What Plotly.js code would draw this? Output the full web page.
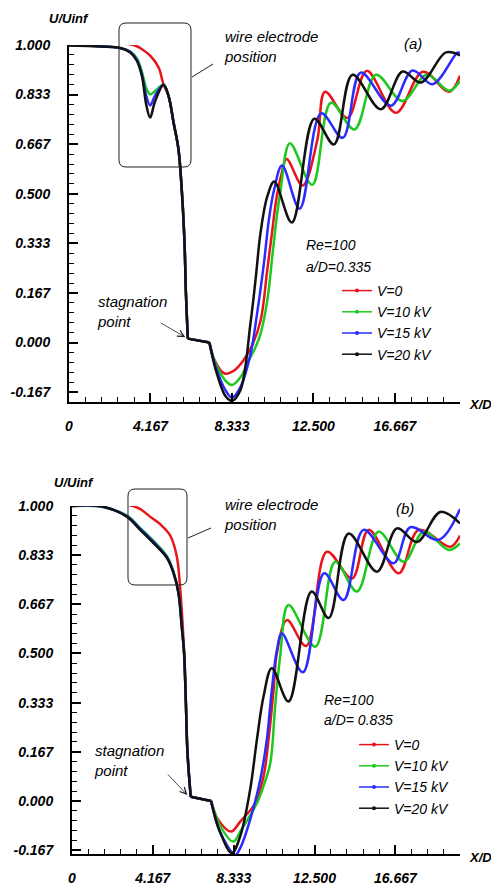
<!DOCTYPE html>
<html>
<head>
<meta charset="utf-8">
<script src="https://cdn.plot.ly/plotly-3.0.1.min.js"></script>
<style>
  html, body { margin: 0; padding: 0; background: #fff; }
  #chart { width: 491px; height: 886px; }
</style>
</head>
<body>
<div id="chart"></div>
<script>
// Streamwise velocity U/Uinf along the wake centreline, X/D downstream
// Panel (a): a/D = 0.335, panel (b): a/D = 0.835

const SERIES_NAMES = ['V=0', 'V=10 kV', 'V=15 kV', 'V=20 kV'];
const SERIES_COLORS = ['#e8141a', '#1ec81e', '#2b2bff', '#111111'];

const X_TICKS = [0, 25 / 6, 50 / 6, 75 / 6, 100 / 6];
const X_TICK_TEXT = ['0', '4.167', '8.333', '12.500', '16.667'];
const Y_TICKS = [-1 / 6, 0, 1 / 6, 2 / 6, 3 / 6, 4 / 6, 5 / 6, 1];
const Y_TICK_TEXT = ['-0.167', '0.000', '0.167', '0.333', '0.500', '0.667', '0.833', '1.000'];

// ---- panel (a), a/D = 0.335 ----
const X_A_V0 = [0, 1.5, 2.6, 3.3, 3.64, 4.15, 4.58, 4.84, 5.09, 5.35, 5.6, 5.78, 5.91, 5.98, 6.08, 6.6, 7.18, 7.45, 7.95, 8.45, 8.9, 9.35, 9.8, 10.14, 10.4, 10.6, 10.85, 11.13, 11.95, 12.7, 13.1, 14.24, 15.23, 16.72, 18.1, 19.45, 20.0];
const U_A_V0 = [1.0, 1.006, 1.006, 1.0, 0.99, 0.964, 0.925, 0.866, 0.829, 0.739, 0.649, 0.5, 0.333, 0.167, 0.013, 0.007, 0.0, -0.06, -0.104, -0.094, -0.062, -0.012, 0.074, 0.243, 0.378, 0.48, 0.56, 0.617, 0.528, 0.68, 0.843, 0.755, 0.913, 0.772, 0.91, 0.843, 0.897];

const X_A_V10 = [0, 1.5, 2.6, 3.13, 3.47, 3.73, 3.95, 4.15, 4.4, 4.84, 5.09, 5.35, 5.6, 5.78, 5.91, 5.98, 6.08, 6.6, 7.18, 7.5, 8.0, 8.34, 8.77, 9.2, 9.54, 9.8, 10.14, 10.4, 10.65, 10.82, 11.3, 12.44, 13.4, 14.6, 15.7, 17.06, 18.3, 19.45, 20.0];
const U_A_V10 = [1.0, 0.997, 0.99, 0.978, 0.955, 0.91, 0.855, 0.834, 0.845, 0.866, 0.829, 0.739, 0.649, 0.5, 0.333, 0.167, 0.013, 0.007, 0.0, -0.07, -0.128, -0.143, -0.117, -0.06, -0.016, 0.03, 0.14, 0.29, 0.435, 0.51, 0.67, 0.53, 0.806, 0.716, 0.9, 0.812, 0.9, 0.846, 0.88];

const X_A_V15 = [0, 1.5, 2.6, 3.13, 3.47, 3.73, 3.95, 4.15, 4.4, 4.84, 5.09, 5.35, 5.6, 5.78, 5.91, 5.98, 6.08, 6.6, 7.18, 7.5, 8.0, 8.34, 8.77, 9.28, 9.62, 9.97, 10.22, 10.48, 10.9, 11.8, 12.9, 14.0, 14.92, 16.46, 17.57, 18.6, 19.88, 20.0];
const U_A_V15 = [1.0, 0.996, 0.99, 0.977, 0.95, 0.9, 0.83, 0.797, 0.83, 0.866, 0.829, 0.739, 0.649, 0.5, 0.333, 0.167, 0.013, 0.007, 0.0, -0.08, -0.16, -0.185, -0.15, -0.04, 0.097, 0.266, 0.41, 0.51, 0.595, 0.45, 0.77, 0.688, 0.907, 0.796, 0.914, 0.868, 0.975, 0.972];

const X_A_V20 = [0, 1.59, 2.62, 3.13, 3.47, 3.73, 3.95, 4.15, 4.4, 4.84, 5.09, 5.35, 5.6, 5.78, 5.91, 5.98, 6.08, 6.6, 7.18, 7.5, 8.0, 8.34, 8.77, 9.28, 9.54, 9.8, 10.14, 10.5, 11.4, 12.55, 13.55, 14.5, 15.95, 17.06, 18.0, 19.28, 20.0];
const U_A_V20 = [0.998, 0.995, 0.99, 0.975, 0.947, 0.896, 0.8, 0.756, 0.81, 0.866, 0.829, 0.739, 0.649, 0.5, 0.333, 0.167, 0.013, 0.007, 0.0, -0.09, -0.18, -0.196, -0.16, 0.063, 0.21, 0.37, 0.49, 0.541, 0.403, 0.752, 0.666, 0.9, 0.784, 0.911, 0.874, 0.975, 0.965];

// ---- panel (b), a/D = 0.835 ----
const X_B_V0 = [0, 1.5, 2.82, 3.5, 4.02, 4.6, 5.06, 5.4, 5.57, 5.71, 5.78, 5.87, 5.95, 6.12, 6.6, 7.17, 7.5, 8.2, 8.67, 9.44, 9.87, 10.13, 10.39, 10.56, 11.08, 12.07, 13.14, 14.43, 15.29, 16.84, 17.87, 19.5, 20.0];
const U_B_V0 = [1.0, 1.005, 1.005, 0.99, 0.964, 0.935, 0.9, 0.83, 0.726, 0.59, 0.5, 0.333, 0.167, 0.014, 0.007, 0.0, -0.06, -0.104, -0.07, -0.008, 0.082, 0.207, 0.376, 0.5, 0.613, 0.525, 0.845, 0.754, 0.919, 0.772, 0.919, 0.862, 0.9];

const X_B_V10 = [0, 1.44, 2.82, 3.5, 4.2, 4.89, 5.23, 5.49, 5.66, 5.78, 5.87, 5.95, 6.12, 6.6, 7.17, 7.6, 8.32, 8.67, 9.53, 9.87, 10.22, 10.47, 10.73, 11.16, 12.54, 13.57, 14.69, 15.8, 17.1, 18.13, 19.42, 20.0];
const U_B_V10 = [1.0, 0.998, 0.968, 0.926, 0.882, 0.83, 0.778, 0.706, 0.59, 0.5, 0.333, 0.167, 0.014, 0.007, 0.0, -0.08, -0.138, -0.104, -0.008, 0.05, 0.128, 0.32, 0.49, 0.664, 0.523, 0.811, 0.71, 0.913, 0.811, 0.913, 0.851, 0.873];

const X_B_V15 = [0, 1.44, 2.82, 3.5, 4.2, 4.89, 5.23, 5.49, 5.66, 5.78, 5.87, 5.95, 6.12, 6.6, 7.17, 7.6, 8.41, 8.67, 9.18, 9.7, 10.04, 10.3, 10.56, 10.82, 11.9, 13.0, 14.0, 15.03, 16.58, 17.44, 18.9, 20.0];
const U_B_V15 = [1.0, 0.999, 0.966, 0.924, 0.878, 0.827, 0.775, 0.705, 0.59, 0.5, 0.333, 0.167, 0.014, 0.007, 0.0, -0.1, -0.183, -0.16, -0.064, 0.071, 0.207, 0.376, 0.51, 0.568, 0.436, 0.772, 0.681, 0.919, 0.806, 0.928, 0.885, 0.99];

const X_B_V20 = [0, 1.44, 2.82, 3.5, 4.2, 4.89, 5.23, 5.49, 5.66, 5.78, 5.87, 5.95, 6.12, 6.6, 7.17, 7.6, 8.24, 8.67, 9.18, 9.53, 9.87, 10.3, 11.16, 12.35, 13.23, 14.26, 15.72, 16.75, 17.78, 18.99, 20.0];
const U_B_V20 = [1.0, 1.0, 0.964, 0.92, 0.874, 0.824, 0.773, 0.704, 0.59, 0.5, 0.333, 0.167, 0.014, 0.007, 0.0, -0.1, -0.177, -0.12, 0.037, 0.207, 0.353, 0.45, 0.337, 0.71, 0.62, 0.907, 0.777, 0.924, 0.878, 0.98, 0.941];

const PANEL_A = [[X_A_V0, U_A_V0], [X_A_V10, U_A_V10], [X_A_V15, U_A_V15], [X_A_V20, U_A_V20]];
const PANEL_B = [[X_B_V0, U_B_V0], [X_B_V10, U_B_V10], [X_B_V15, U_B_V15], [X_B_V20, U_B_V20]];

const W = 491, H = 886;
const FONT = 'Liberation Sans, Arial, sans-serif';
const px = p => p / W;          // pixel column -> paper x
const py = p => 1 - p / H;      // pixel row -> paper y

// Each profile is drawn in three pieces: the smooth upstream part down to the
// stagnation point, the straight segment across the cylinder base, and the
// smooth wake part from the corner onwards.
function pieces(xs, us) {
  const iStag = us.findIndex(u => u < 0.05);
  const iCorner = us.findIndex(u => u <= 0);
  return [[0, iStag, 'spline'], [iStag, iCorner, 'linear'], [iCorner, xs.length - 1, 'spline']];
}

const traces = [];
function addPanel(panel, xa, ya, legendId) {
  panel.forEach(([xs, us], i) => {
    pieces(xs, us).forEach(([a, b, shape]) => {
      traces.push({
        x: xs.slice(a, b + 1), y: us.slice(a, b + 1), xaxis: xa, yaxis: ya,
        type: 'scatter', mode: 'lines', showlegend: false,
        legendgroup: legendId + i, legend: legendId,
        line: { color: SERIES_COLORS[i], width: 2.5, shape, smoothing: 1 },
        hoverinfo: 'skip'
      });
    });
    // legend key: thin line with a dot, as in the plotted key
    traces.push({
      x: [null], y: [null], xaxis: xa, yaxis: ya,
      type: 'scatter', mode: 'lines+markers', name: SERIES_NAMES[i],
      legendgroup: legendId + i, legend: legendId, showlegend: true,
      line: { color: SERIES_COLORS[i], width: 1.5 },
      marker: { color: SERIES_COLORS[i], size: 4 },
      hoverinfo: 'skip'
    });
  });
}
addPanel(PANEL_A, 'x', 'y', 'legend');
addPanel(PANEL_B, 'x2', 'y2', 'legend2');

const tickFont = { family: FONT, size: 14, color: '#000', weight: 'bold', style: 'italic' };

function xAxis(domain, anchor) {
  return {
    domain, anchor, range: [0, 20], fixedrange: true, automargin: false,
    showline: true, linewidth: 2, linecolor: '#000', mirror: false,
    showgrid: false, zeroline: false,
    tickmode: 'array', tickvals: X_TICKS, ticktext: X_TICK_TEXT,
    ticks: 'inside', ticklen: 9, tickwidth: 2, tickcolor: '#000',
    ticklabelstandoff: 10, tickfont: tickFont,
    minor: { tickmode: 'linear', tick0: 0, dtick: 25 / 30, ticks: 'inside', ticklen: 5, tickwidth: 1, tickcolor: '#000', showgrid: false }
  };
}
function yAxis(domain, anchor, range) {
  return {
    domain, anchor, range, fixedrange: true, automargin: false,
    showline: true, linewidth: 2, linecolor: '#000', mirror: false,
    showgrid: false, zeroline: false,
    tickmode: 'array', tickvals: Y_TICKS, ticktext: Y_TICK_TEXT,
    ticks: 'inside', ticklen: 9, tickwidth: 2, tickcolor: '#000',
    ticklabelstandoff: 14, tickfont: tickFont,
    minor: { tickmode: 'linear', tick0: 0, dtick: 1 / 30, ticks: 'inside', ticklen: 5, tickwidth: 1, tickcolor: '#000', showgrid: false }
  };
}

function roundRect(x0, y0, x1, y1, r) {
  const P = (x, y) => px(x).toFixed(5) + ',' + py(y).toFixed(5);
  return 'M' + P(x0 + r, y0) + ' L' + P(x1 - r, y0) + ' Q' + P(x1, y0) + ' ' + P(x1, y0 + r) +
         ' L' + P(x1, y1 - r) + ' Q' + P(x1, y1) + ' ' + P(x1 - r, y1) +
         ' L' + P(x0 + r, y1) + ' Q' + P(x0, y1) + ' ' + P(x0, y1 - r) +
         ' L' + P(x0, y0 + r) + ' Q' + P(x0, y0) + ' ' + P(x0 + r, y0) + ' Z';
}

const shapes = [
  { type: 'path', xref: 'paper', yref: 'paper', path: roundRect(119, 23, 191, 167, 7), line: { color: '#222', width: 1 } },
  { type: 'line', xref: 'paper', yref: 'paper', x0: px(192), y0: py(77), x1: px(213), y1: py(64), line: { color: '#222', width: 1 } },
  { type: 'path', xref: 'paper', yref: 'paper', path: roundRect(128, 489, 187, 585, 7), line: { color: '#222', width: 1 } },
  { type: 'line', xref: 'paper', yref: 'paper', x0: px(188), y0: py(538), x1: px(211), y1: py(528), line: { color: '#222', width: 1 } }
];

const txt = (text, x, y, opts = {}) => Object.assign({
  text, x: px(x), y: py(y), xref: 'paper', yref: 'paper',
  xanchor: 'left', yanchor: 'middle', showarrow: false,
  font: { family: FONT, size: 14, color: '#000', style: 'italic' }
}, opts);
const ital = (size) => ({ align: 'left', font: { family: FONT, size, color: '#000', style: 'italic' } });
const bold = (size) => ({ font: { family: FONT, size, color: '#000', style: 'italic', weight: 'bold' } });

const annotations = [
  // panel (a)
  txt('U/Uinf', 47, 18, bold(13)),
  txt('wire electrode<br>position', 222, 47, ital(15)),
  txt('(a)', 402, 43, ital(15)),
  txt('Re=100', 304, 245),
  txt('a/D=0.335', 304, 267),
  txt('X/D', 467, 404, bold(13)),
  txt('stagnation<br>point', 95, 311, ital(15)),
  { x: 5.95, y: 0.018, xref: 'x', yref: 'y', ax: -26, ay: -15, text: '', showarrow: true,
    arrowhead: 5, arrowsize: 1.6, arrowwidth: 0.8, arrowcolor: '#222' },
  // panel (b)
  txt('U/Uinf', 52, 482, bold(13)),
  txt('wire electrode<br>position', 222, 514, ital(15)),
  txt('(b)', 394, 508, ital(15)),
  txt('Re=100', 322, 700),
  txt('a/D= 0.835', 322, 720),
  txt('X/D', 467, 857, bold(13)),
  txt('stagnation<br>point', 92, 760, ital(15)),
  { x: 5.95, y: 0.02, xref: 'x2', yref: 'y2', ax: -21, ay: -22, text: '', showarrow: true,
    arrowhead: 5, arrowsize: 1.6, arrowwidth: 0.8, arrowcolor: '#222' }
];

const legendStyle = (x, y) => ({
  x: px(x), y: py(y), xref: 'paper', yref: 'paper', xanchor: 'left', yanchor: 'top',
  bgcolor: 'rgba(0,0,0,0)', borderwidth: 0, itemwidth: 30, tracegroupgap: 0,
  font: { family: FONT, size: 14, color: '#000', style: 'italic' }
});

const layout = {
  width: W, height: H,
  margin: { l: 0, r: 0, t: 0, b: 0 },
  paper_bgcolor: '#fff', plot_bgcolor: '#fff',
  showlegend: true,
  xaxis: xAxis([px(69), px(460)], 'y'),
  yaxis: yAxis([py(402), py(45)], 'x', [-0.2, 1.0]),
  xaxis2: xAxis([px(72), px(460)], 'y2'),
  yaxis2: yAxis([py(854), py(506)], 'x2', [-0.18, 1.0]),
  legend: legendStyle(337, 275),
  legend2: legendStyle(354, 729),
  shapes, annotations
};

Plotly.newPlot('chart', traces, layout, { staticPlot: true, displayModeBar: false });
</script>
</body>
</html>
